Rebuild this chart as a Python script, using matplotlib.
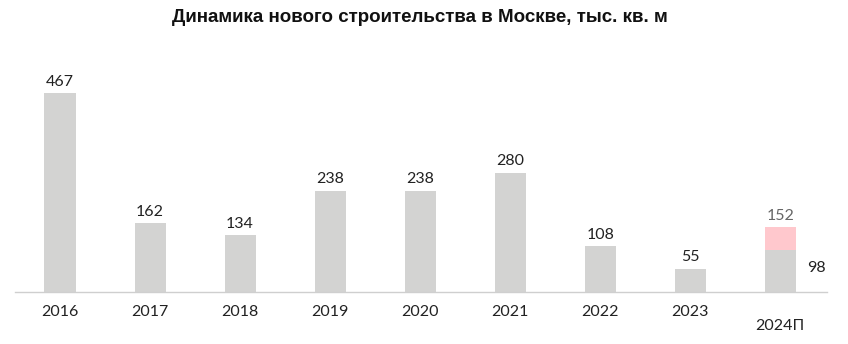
import matplotlib
matplotlib.use("Agg")
import matplotlib.pyplot as plt

categories = ["2016", "2017", "2018", "2019", "2020", "2021", "2022", "2023", "2024П"]
values = [467, 162, 134, 238, 238, 280, 108, 55, 98]
forecast_extra = [0, 0, 0, 0, 0, 0, 0, 0, 54]
forecast_total = 152

grey = "#d3d3d2"
pink = "#ffc8cd"
font = ["Lato", "DejaVu Sans"]

fig = plt.figure(figsize=(8.48, 3.44), dpi=100)
ax = fig.add_axes([15/848, 52/344, (827-15)/848, (292-60)/344])
x = list(range(len(categories)))
ax.bar(x, values, width=0.345, color=grey, zorder=2)
ax.bar(x, forecast_extra, bottom=values, width=0.345, color=pink, zorder=2)
ax.set_xlim(-0.5, 8.52)
ax.set_ylim(0, 544)
for s in ["top", "right", "left"]:
    ax.spines[s].set_visible(False)
ax.spines["bottom"].set_color("#cfcfcf")
ax.spines["bottom"].set_linewidth(1)
ax.set_yticks([])
ax.set_xticks(x)
ax.set_xticklabels([])
ax.tick_params(axis="x", length=0)

for i, (c, v) in enumerate(zip(categories, values)):
    off = 14.5 if i < len(categories) - 1 else 24.5
    ax.annotate(c, (i, 0), xytext=(0, -off), textcoords="offset points",
                ha="center", va="center", fontsize=11.5, family=font, color="#222222")
    if i < len(categories) - 1:
        ax.annotate(str(v), (i, v), xytext=(0, 3), textcoords="offset points",
                    ha="center", va="bottom", fontsize=11.5, family=font, color="#222222")

last = len(categories) - 1
ax.annotate(str(forecast_total), (last, forecast_total), xytext=(0, 3), textcoords="offset points",
            ha="center", va="bottom", fontsize=11.5, family=font, color="#666666")
ax.annotate(str(values[last]), (last + 0.173, values[last]), xytext=(8, -13), textcoords="offset points",
            ha="left", va="center", fontsize=11.5, family=font, color="#222222")

fig.text(420/848, 1 - 17/344, "Динамика нового строительства в Москве, тыс. кв. м",
         ha="center", va="center", fontsize=13.5, fontweight="bold",
         family=["Liberation Sans", "DejaVu Sans"], color="#111111")

fig.savefig("out.png", dpi=100)
